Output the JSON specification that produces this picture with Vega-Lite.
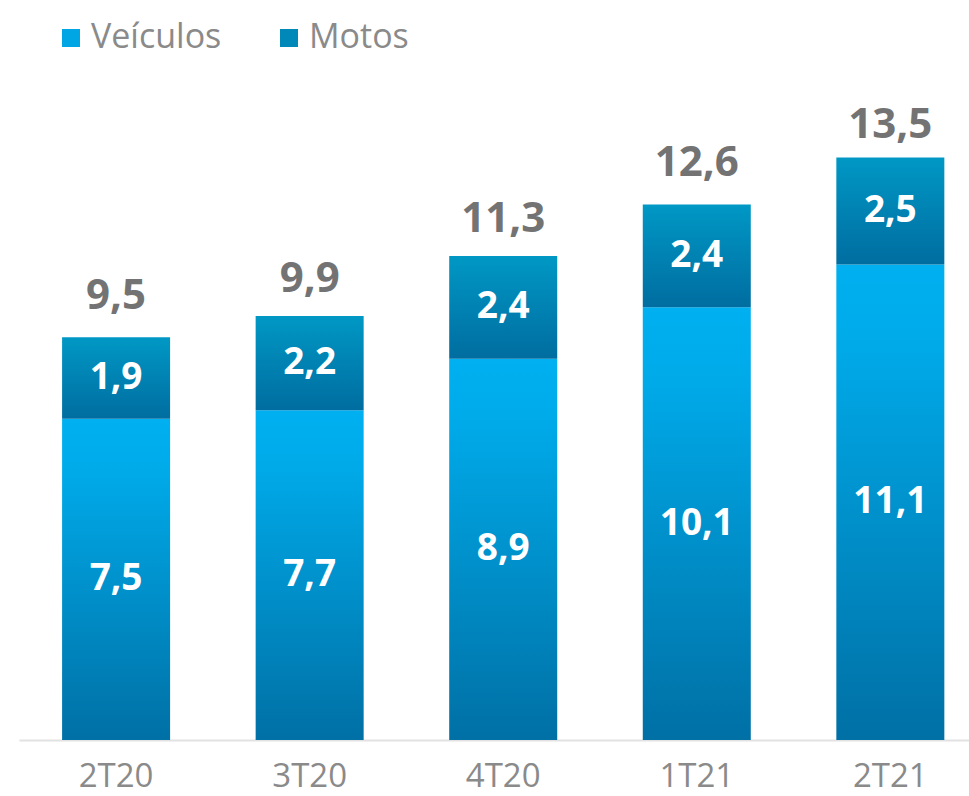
{
  "$schema": "https://vega.github.io/schema/vega-lite/v6.json",
  "width": 950,
  "height": 664,
  "autosize": {"type": "none"},
  "padding": {"left": 19, "top": 76, "right": 0, "bottom": 56},
  "background": "#ffffff",
  "config": {
    "view": {"stroke": null},
    "font": "Open Sans",
    "locale": {"number": {"decimal": ",", "thousands": ".", "grouping": [3], "currency": ["R$", ""]}}
  },
  "datasets": {
    "segmentos": [
      {"periodo": "2T20", "tipo": "Veículos", "valor": 7.5},
      {"periodo": "2T20", "tipo": "Motos", "valor": 1.9},
      {"periodo": "3T20", "tipo": "Veículos", "valor": 7.7},
      {"periodo": "3T20", "tipo": "Motos", "valor": 2.2},
      {"periodo": "4T20", "tipo": "Veículos", "valor": 8.9},
      {"periodo": "4T20", "tipo": "Motos", "valor": 2.4},
      {"periodo": "1T21", "tipo": "Veículos", "valor": 10.1},
      {"periodo": "1T21", "tipo": "Motos", "valor": 2.4},
      {"periodo": "2T21", "tipo": "Veículos", "valor": 11.1},
      {"periodo": "2T21", "tipo": "Motos", "valor": 2.5}
    ],
    "totais": [
      {"periodo": "2T20", "total": 9.5},
      {"periodo": "3T20", "total": 9.9},
      {"periodo": "4T20", "total": 11.3},
      {"periodo": "1T21", "total": 12.6},
      {"periodo": "2T21", "total": 13.5}
    ]
  },
  "encoding": {
    "x": {
      "field": "periodo",
      "type": "nominal",
      "sort": ["2T20", "3T20", "4T20", "1T21", "2T21"],
      "scale": {"paddingInner": 0.442, "paddingOuter": 0.175, "align": 0.636},
      "axis": {
        "title": null,
        "ticks": false,
        "domainColor": "#e2e2e2",
        "domainWidth": 2,
        "labelFont": "Open Sans",
        "labelFontSize": 33,
        "labelColor": "#8a8a8a",
        "labelPadding": 20,
        "labelAngle": 0
      }
    }
  },
  "layer": [
    {
      "data": {"name": "segmentos"},
      "transform": [
        {"stack": "valor", "groupby": ["periodo"], "sort": [{"field": "tipo", "order": "descending"}], "as": ["v0", "v1"]},
        {"calculate": "(datum.v0 + datum.v1) / 2", "as": "meio"}
      ],
      "layer": [
        {
          "mark": {"type": "bar", "opacity": 0},
          "encoding": {
            "y": {"field": "v0", "type": "quantitative", "scale": {"domain": [0, 15.5]}, "axis": null},
            "y2": {"field": "v1"},
            "color": {
              "field": "tipo",
              "type": "nominal",
              "sort": ["Veículos", "Motos"],
              "scale": {"domain": ["Veículos", "Motos"], "range": ["#00a6e4", "#0088b8"]},
              "legend": {
                "title": null,
                "orient": "none",
                "legendX": 35,
                "legendY": -55,
                "direction": "horizontal",
                "symbolType": "square",
                "symbolSize": 324,
                "symbolStrokeWidth": 0,
                "symbolOpacity": 1,
                "labelFont": "Open Sans",
                "labelFontSize": 34,
                "labelColor": "#8a8a8a",
                "labelOffset": 3,
                "columnPadding": 50,
                "encode": {
                  "symbols": {
                    "update": {
                      "opacity": {"value": 1},
                      "fill": [
                        {"test": "datum.value === 'Motos'", "value": {"gradient": "linear", "x1": 0, "y1": 0, "x2": 0, "y2": 1, "stops": [{"offset": 0, "color": "#0098c5"}, {"offset": 1, "color": "#006da0"}]}},
                        {"value": {"gradient": "linear", "x1": 0, "y1": 0, "x2": 0, "y2": 1, "stops": [{"offset": 0, "color": "#00b0f0"}, {"offset": 1, "color": "#0078ae"}]}}
                      ]
                    }
                  }
                }
              }
            }
          }
        },
        {
          "mark": {"type": "bar"},
          "encoding": {
            "y": {"field": "v0", "type": "quantitative", "scale": {"domain": [0, 15.5]}, "axis": null},
            "y2": {"field": "v1"},
            "color": {
              "condition": {"test": "datum.tipo === 'Motos'", "value": {"gradient": "linear", "x1": 0, "y1": 0, "x2": 0, "y2": 1, "stops": [{"offset": 0, "color": "#0098c5"}, {"offset": 1, "color": "#006da0"}]}},
              "value": {"gradient": "linear", "x1": 0, "y1": 0, "x2": 0, "y2": 1, "stops": [{"offset": 0, "color": "#00b0f0"}, {"offset": 0.15, "color": "#00abea"}, {"offset": 1, "color": "#0070a5"}]}
            }
          }
        },
        {
          "mark": {"type": "text", "font": "Open Sans", "fontWeight": "bold", "fontSize": 37, "color": "#ffffff", "baseline": "middle", "align": "center"},
          "encoding": {
            "y": {"field": "meio", "type": "quantitative", "scale": {"domain": [0, 15.5]}},
            "text": {"field": "valor", "type": "quantitative", "format": ".1f"}
          }
        }
      ]
    },
    {
      "data": {"name": "totais"},
      "mark": {"type": "text", "font": "Open Sans", "fontWeight": "bold", "fontSize": 42, "color": "#737373", "baseline": "middle", "align": "center", "dy": -37},
      "encoding": {
        "y": {"field": "total", "type": "quantitative", "scale": {"domain": [0, 15.5]}},
        "text": {"field": "total", "type": "quantitative", "format": ".1f"}
      }
    }
  ]
}
